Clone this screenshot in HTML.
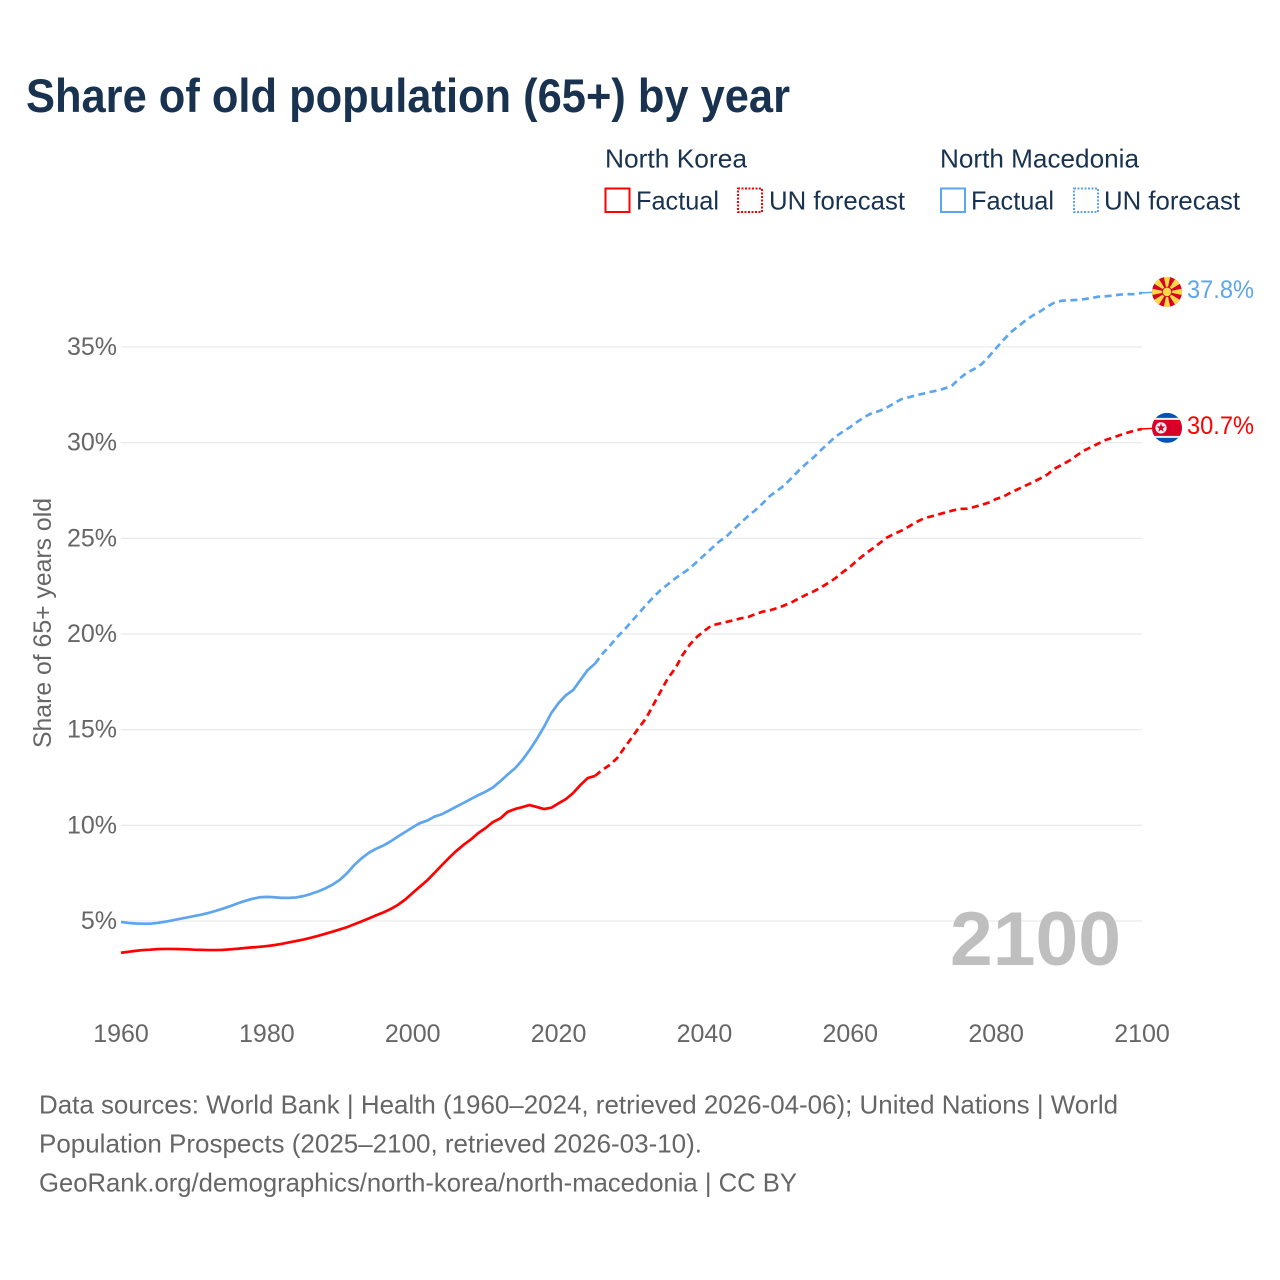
<!DOCTYPE html>
<html lang="en">
<head>
<meta charset="utf-8">
<title>Share of old population (65+) by year</title>
<style>
html,body{margin:0;padding:0;background:#fff;width:1280px;height:1280px;overflow:hidden}
svg{display:block}
text{font-family:"Liberation Sans",Arial,sans-serif}
.navy{fill:#18324f}
.grey{fill:#666}
</style>
</head>
<body>
<svg id="chart" xmlns="http://www.w3.org/2000/svg" width="1280" height="1280" viewBox="0 0 1280 1280">
  <defs>
    <clipPath id="flag-clip"><circle cx="0" cy="0" r="15"/></clipPath>
  </defs>
  <rect x="0" y="0" width="1280" height="1280" fill="#fff"/>
  <text class="navy" x="26" y="112" font-size="47" font-weight="700" textLength="764" lengthAdjust="spacingAndGlyphs">Share of old population (65+) by year</text>

  <g font-size="26">
    <text class="navy" x="605" y="167.5" textLength="142" lengthAdjust="spacingAndGlyphs">North Korea</text>
    <rect x="605.5" y="188.5" width="24" height="23.5" fill="none" stroke="#ff0000" stroke-width="2"/>
    <text class="navy" x="636" y="209.5" textLength="83" lengthAdjust="spacingAndGlyphs">Factual</text>
    <rect x="738" y="188.5" width="24" height="23.5" fill="none" stroke="#ff0000" stroke-width="2" stroke-dasharray="2 1.5"/>
    <text class="navy" x="769" y="209.5" textLength="136" lengthAdjust="spacingAndGlyphs">UN forecast</text>

    <text class="navy" x="940" y="167.5" textLength="199" lengthAdjust="spacingAndGlyphs">North Macedonia</text>
    <rect x="941" y="188.5" width="24" height="23.5" fill="none" stroke="#5da5ee" stroke-width="2"/>
    <text class="navy" x="971" y="209.5" textLength="83" lengthAdjust="spacingAndGlyphs">Factual</text>
    <rect x="1074" y="188.5" width="24" height="23.5" fill="none" stroke="#5da5ee" stroke-width="2" stroke-dasharray="2 1.5"/>
    <text class="navy" x="1104" y="209.5" textLength="136" lengthAdjust="spacingAndGlyphs">UN forecast</text>
  </g>

  <g id="grid-layer"></g>
  <g id="y-tick-layer"></g>
  <g id="x-tick-layer"></g>

  <text class="grey" font-size="25" text-anchor="middle" transform="translate(51 623) rotate(-90)" textLength="250" lengthAdjust="spacingAndGlyphs">Share of 65+ years old</text>

  <text x="950" y="965" font-size="76" font-weight="700" fill="#bfbfbf" textLength="171" lengthAdjust="spacingAndGlyphs">2100</text>

  <g id="series-layer"></g>

  <g id="flag-mk">
    <g clip-path="url(#flag-clip)">
      <rect x="-15" y="-15" width="30" height="30" fill="#d80027"/>
      <g fill="#ffda44">
        <polygon points="-3.4,-16 3.4,-16 0,0"/>
        <polygon points="-3.4,16 3.4,16 0,0"/>
        <polygon points="-16,-3.4 -16,3.4 0,0"/>
        <polygon points="16,-3.4 16,3.4 0,0"/>
        <polygon points="-14,-8.8 -8.8,-14 0,0"/>
        <polygon points="14,-8.8 8.8,-14 0,0"/>
        <polygon points="-14,8.8 -8.8,14 0,0"/>
        <polygon points="14,8.8 8.8,14 0,0"/>
      </g>
      <circle cx="0" cy="0" r="5.2" fill="#d80027"/>
      <circle cx="0" cy="0" r="4.3" fill="#ffda44"/>
    </g>
  </g>

  <g id="flag-kp">
    <g clip-path="url(#flag-clip)">
      <rect x="-15" y="-15" width="30" height="30" fill="#0052b4"/>
      <rect x="-15" y="-10" width="30" height="20" fill="#f0f0f0"/>
      <rect x="-15" y="-8" width="30" height="16" fill="#d80027"/>
      <circle cx="-6" cy="0" r="5.6" fill="#f0f0f0"/>
      <polygon points="-6,-4.6 -4.9,-1.5 -1.6,-1.4 -4.2,0.6 -3.3,3.8 -6,1.9 -8.7,3.8 -7.8,0.6 -10.4,-1.4 -7.1,-1.5" fill="#d80027"/>
    </g>
  </g>

  <g class="grey" font-size="26">
    <text x="39" y="1113.5" textLength="1079" lengthAdjust="spacingAndGlyphs">Data sources: World Bank | Health (1960–2024, retrieved 2026-04-06); United Nations | World</text>
    <text x="39" y="1152.5" textLength="663" lengthAdjust="spacingAndGlyphs">Population Prospects (2025–2100, retrieved 2026-03-10).</text>
    <text x="39" y="1191.5" textLength="758" lengthAdjust="spacingAndGlyphs">GeoRank.org/demographics/north-korea/north-macedonia | CC BY</text>
  </g>
</svg>

<script>
const xTickLabels = [1960, 1980, 2000, 2020, 2040, 2060, 2080, 2100];
const yTickLabels = [5, 10, 15, 20, 25, 30, 35];
const factualStartYear = 1960;
const forecastStartYear = 2025;

const northKoreaFactual = [
  3.34,3.39,3.44,3.48,3.50,3.53,3.54,3.54,3.53,3.52,
  3.50,3.49,3.48,3.48,3.49,3.52,3.55,3.59,3.62,3.65,
  3.69,3.74,3.80,3.88,3.95,4.03,4.12,4.22,4.33,4.44,
  4.56,4.68,4.83,4.98,5.14,5.30,5.45,5.63,5.85,6.13,
  6.47,6.80,7.13,7.52,7.92,8.31,8.67,8.99,9.27,9.60,
  9.86,10.17,10.36,10.70,10.85,10.95,11.06,10.96,10.85,10.92,
  11.15,11.37,11.69,12.11,12.47,12.58
];
const northKoreaForecast = [
  12.58,12.90,13.15,13.50,14.04,14.56,15.10,15.60,16.30,17.00,
  17.70,18.20,18.90,19.45,19.86,20.17,20.45,20.54,20.63,20.72,
  20.82,20.89,21.04,21.17,21.24,21.36,21.50,21.66,21.87,22.06,
  22.23,22.44,22.67,22.93,23.24,23.52,23.87,24.17,24.45,24.74,
  25.04,25.23,25.40,25.61,25.84,26.03,26.14,26.24,26.35,26.45,
  26.54,26.55,26.64,26.75,26.87,27.06,27.18,27.39,27.57,27.75,
  27.93,28.12,28.33,28.64,28.84,29.05,29.32,29.58,29.76,29.95,
  30.14,30.26,30.40,30.52,30.63,30.72
];
const northMacedoniaFactual = [
  4.95,4.90,4.87,4.86,4.86,4.90,4.96,5.03,5.11,5.18,
  5.26,5.33,5.42,5.53,5.65,5.78,5.92,6.05,6.16,6.24,
  6.26,6.24,6.21,6.21,6.23,6.30,6.41,6.54,6.70,6.90,
  7.15,7.50,7.93,8.28,8.57,8.78,8.95,9.17,9.42,9.66,
  9.90,10.12,10.25,10.46,10.58,10.78,10.98,11.18,11.38,11.58,
  11.76,11.98,12.30,12.65,12.97,13.40,13.92,14.50,15.14,15.87,
  16.39,16.80,17.07,17.60,18.12,18.45
];
const northMacedoniaForecast = [
  18.45,18.96,19.37,19.83,20.21,20.65,21.08,21.52,21.92,22.30,
  22.60,22.91,23.17,23.43,23.78,24.13,24.48,24.83,25.09,25.47,
  25.82,26.17,26.48,26.83,27.22,27.49,27.79,28.17,28.57,28.92,
  29.24,29.62,29.97,30.32,30.58,30.82,31.10,31.35,31.55,31.66,
  31.83,32.06,32.27,32.37,32.48,32.56,32.65,32.73,32.84,33.00,
  33.36,33.66,33.85,34.10,34.50,34.94,35.37,35.77,36.07,36.38,
  36.64,36.85,37.11,37.32,37.42,37.44,37.46,37.50,37.55,37.63,
  37.65,37.69,37.74,37.76,37.76,37.83
];

const RED = '#ff0000';
const BLUE = '#5da5ee';
const SVG_NS = 'http://www.w3.org/2000/svg';

function xScale(year) { return 121 + (year - 1960) * (1142 - 121) / 140; }
function yScale(value) { return 921 - (value - 5) * (921 - 347) / 30; }

function make(tag, attrs, parent) {
  const node = document.createElementNS(SVG_NS, tag);
  for (const key in attrs) node.setAttribute(key, attrs[key]);
  parent.appendChild(node);
  return node;
}
function pathFrom(values, startYear) {
  return values.map(function (v, i) {
    return (i ? 'L' : 'M') + xScale(startYear + i).toFixed(2) + ' ' + yScale(v).toFixed(2);
  }).join(' ');
}

const gridLayer = document.getElementById('grid-layer');
const yTickLayer = document.getElementById('y-tick-layer');
const xTickLayer = document.getElementById('x-tick-layer');
const seriesLayer = document.getElementById('series-layer');

yTickLabels.forEach(function (tick) {
  const line = make('line', { x1: xScale(1960), x2: xScale(2100), y1: yScale(tick), y2: yScale(tick), stroke: '#ebebeb', 'stroke-width': 1.3 }, gridLayer);
  
  
  const label = make('text', { x: 117, y: yScale(tick) + 8, 'font-size': 25, 'text-anchor': 'end', fill: '#666' }, yTickLayer);
  
  
  label.textContent = tick + '%';
});

xTickLabels.forEach(function (tick) {
  const label = make('text', { x: xScale(tick), y: 1042, 'font-size': 25, 'text-anchor': 'middle', fill: '#666' }, xTickLayer);
  
  
  label.textContent = String(tick);
});

const lineBase = { fill: 'none', 'stroke-width': 2.7, 'stroke-linejoin': 'round' };

const mkFactualLine = make('path', Object.assign({ d: pathFrom(northMacedoniaFactual, factualStartYear), stroke: BLUE }, lineBase), seriesLayer);



const mkForecastLine = make('path', Object.assign({ d: pathFrom(northMacedoniaForecast, forecastStartYear), stroke: BLUE, 'stroke-dasharray': '7 4.5' }, lineBase), seriesLayer);



const kpFactualLine = make('path', Object.assign({ d: pathFrom(northKoreaFactual, factualStartYear), stroke: RED }, lineBase), seriesLayer);



const kpForecastLine = make('path', Object.assign({ d: pathFrom(northKoreaForecast, forecastStartYear), stroke: RED, 'stroke-dasharray': '7 4.5' }, lineBase), seriesLayer);



const mkEnd = northMacedoniaForecast[northMacedoniaForecast.length - 1];
const kpEnd = northKoreaForecast[northKoreaForecast.length - 1];

const mkConnector = make('line', { x1: xScale(2100), x2: xScale(2100) + 11, y1: yScale(mkEnd), y2: yScale(mkEnd) - 0.5, stroke: BLUE, 'stroke-width': 1.5 }, seriesLayer);



const kpConnector = make('line', { x1: xScale(2100), x2: xScale(2100) + 11, y1: yScale(kpEnd), y2: yScale(kpEnd) - 0.5, stroke: RED, 'stroke-width': 1.5 }, seriesLayer);



document.getElementById('flag-mk').setAttribute('transform', 'translate(' + (xScale(2100) + 25) + ' ' + (yScale(mkEnd) - 1) + ')');
document.getElementById('flag-kp').setAttribute('transform', 'translate(' + (xScale(2100) + 25) + ' ' + (yScale(kpEnd) - 1) + ')');

const mkValue = make('text', { x: xScale(2100) + 45, y: yScale(mkEnd) + 5, 'font-size': 25, fill: BLUE, textLength: 67, lengthAdjust: 'spacingAndGlyphs' }, seriesLayer);


mkValue.textContent = mkEnd.toFixed(1) + '%';

const kpValue = make('text', { x: xScale(2100) + 45, y: yScale(kpEnd) + 5, 'font-size': 25, fill: RED, textLength: 67, lengthAdjust: 'spacingAndGlyphs' }, seriesLayer);


kpValue.textContent = kpEnd.toFixed(1) + '%';
</script>
</body>
</html>
